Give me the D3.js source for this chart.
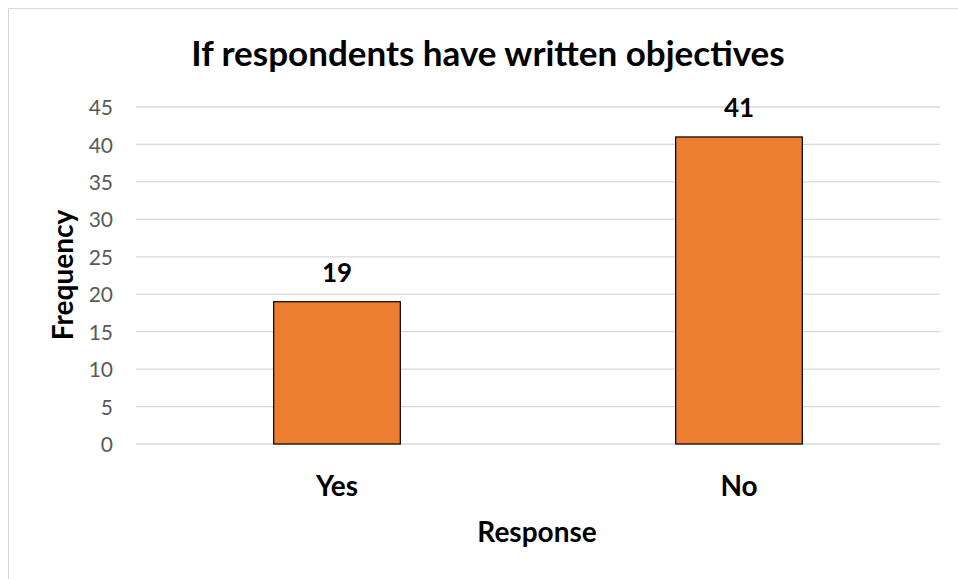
<!DOCTYPE html>
<html>
<head>
<meta charset="utf-8">
<script src="https://cdn.jsdelivr.net/npm/d3@7"></script>
<style>
  body { margin: 0; background: #fff; }
  svg { display: block; font-family: Lato, "Open Sans", sans-serif; }
</style>
</head>
<body>
<div id="chart"></div>
<script>
var responses = ["Yes", "No"]
var frequency = [19, 41]
var yTicks = [0, 5, 10, 15, 20, 25, 30, 35, 40, 45]

var width = 958, height = 579
var margin = { top: 107, right: 18, bottom: 135, left: 136 }

var svg = d3.select("#chart").append("svg")
    .attr("width", width)
    .attr("height", height)

// chart frame (only top and left edges fall inside the page)
svg.append("rect")
    .attr("x", 8.5)
    .attr("y", 8.5)
    .attr("width", width + 20)
    .attr("height", height + 20)
    .attr("fill", "none")
    .attr("stroke", "#d9d9d9")
    .attr("stroke-width", 1)

var x = d3.scaleBand()
    .domain(responses)
    .range([margin.left, width - margin.right])
    .paddingInner(0.685)
    .paddingOuter(0.3425)

var y = d3.scaleLinear()
    .domain([0, 45])
    .range([height - margin.bottom, margin.top])

// gridlines
svg.append("g")
    .selectAll("line")
    .data(yTicks)
    .enter().append("line")
    .attr("x1", margin.left)
    .attr("x2", width - margin.right)
    .attr("y1", function(d){ return y(d); })
    .attr("y2", function(d){ return y(d); })
    .attr("stroke", "#d9d9d9")
    .attr("stroke-width", 1.3)

var yAxis = d3.axisLeft(y).tickValues(yTicks).tickSize(0).tickPadding(0)
var gy = svg.append("g")
    .attr("transform", "translate(113,0)")
    .call(yAxis)
gy.select(".domain").remove()
gy.selectAll("text")
    .attr("fill", "#595959")
    .style("font-size", "21px")
    .style("font-family", "Lato, sans-serif")
    .attr("dy", "0.36em")

// bars
svg.append("g")
    .selectAll("rect")
    .data(frequency)
    .enter().append("rect")
    .attr("x", function(d, i){ return x(responses[i]); })
    .attr("y", function(d){ return y(d); })
    .attr("width", x.bandwidth())
    .attr("height", function(d){ return y(0) - y(d); })
    .attr("fill", "#ed7d31")
    .attr("stroke", "#000")
    .attr("stroke-width", 1.2)

// value labels
svg.append("g")
    .selectAll("text")
    .data(frequency)
    .enter().append("text")
    .attr("x", function(d, i){ return x(responses[i]) + x.bandwidth() / 2; })
    .attr("y", function(d){ return y(d) - 20; })
    .attr("text-anchor", "middle")
    .style("font-size", "26px")
    .style("font-weight", "bold")
    .text(function(d){ return d; })

// category labels
var xAxis = d3.axisBottom(x).tickSize(0).tickPadding(0)
var gx = svg.append("g")
    .attr("transform", "translate(0," + y(0) + ")")
    .call(xAxis)
gx.select(".domain").remove()
gx.selectAll("text")
    .attr("y", 52)
    .attr("dy", 0)
    .attr("fill", "#000")
    .style("font-size", "28px")
    .style("font-weight", "bold")
    .style("font-family", "Lato, sans-serif")

svg.append("text")
    .attr("x", 537)
    .attr("y", 542)
    .attr("text-anchor", "middle")
    .style("font-size", "28px")
    .style("font-weight", "bold")
    .text("Response")

svg.append("text")
    .attr("transform", "translate(73,275) rotate(-90)")
    .attr("text-anchor", "middle")
    .style("font-size", "28px")
    .style("font-weight", "bold")
    .text("Frequency")

svg.append("text")
    .attr("x", 488)
    .attr("y", 66)
    .attr("text-anchor", "middle")
    .style("font-size", "35px")
    .style("font-weight", "bold")
    .text("If respondents have written objectives")
</script>
</body>
</html>
